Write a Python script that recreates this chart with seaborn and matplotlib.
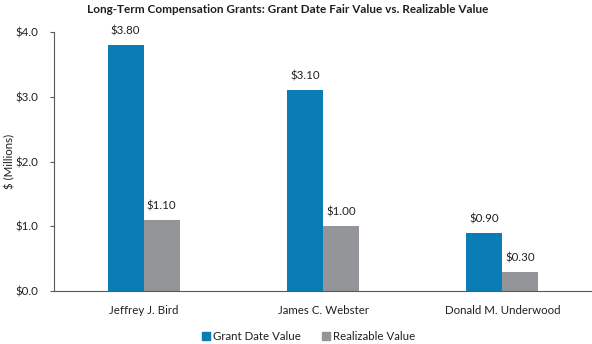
import matplotlib
matplotlib.use("Agg")
import matplotlib.pyplot as plt
import seaborn as sns
import pandas as pd

executives = ["Jeffrey J. Bird", "James C. Webster", "Donald M. Underwood"]
grant_date_value = [3.80, 3.10, 0.90]
realizable_value = [1.10, 1.00, 0.30]
series_names = ["Grant Date Value", "Realizable Value"]
y_ticks = [0.0, 1.0, 2.0, 3.0, 4.0]

df = pd.DataFrame({
    "Executive": executives * 2,
    "Series": [series_names[0]] * 3 + [series_names[1]] * 3,
    "Value": grant_date_value + realizable_value,
})

sns.set_theme(style="white")
plt.rcParams["font.family"] = ["Lato", "DejaVu Sans"]

colors = {"Grant Date Value": "#0b7db6", "Realizable Value": "#939598"}
text_color = "#231f20"
axis_color = "#58595b"

fig = plt.figure(figsize=(5.92, 3.44), dpi=100)
ax = fig.add_axes([54 / 592, 53 / 344, 538 / 592, 259 / 344])

sns.barplot(data=df, x="Executive", y="Value", hue="Series", palette=colors,
            width=0.4, linewidth=0, saturation=1, ax=ax, legend=False)

for container in ax.containers:
    ax.bar_label(container, labels=[f"${v:.2f}" for v in container.datavalues],
                 padding=6, fontsize=8.3, color=text_color)

ax.set_xlim(-0.5, 2.5)
ax.set_ylim(0, 4.0)
ax.set_yticks(y_ticks)
ax.set_yticklabels([f"${t:.1f}" for t in y_ticks])
ax.tick_params(axis="y", direction="out", length=3, width=0.8, color=axis_color,
               labelsize=8.3, labelcolor=text_color, pad=8, left=True)
ax.tick_params(axis="x", length=0, labelsize=8.3, labelcolor=text_color, pad=10)
ax.set_xlabel("")
ax.set_ylabel("$ (Millions)", fontsize=8.3, color=text_color, labelpad=0.5)

for side in ["top", "right"]:
    ax.spines[side].set_visible(False)
for side in ["left", "bottom"]:
    ax.spines[side].set_color(axis_color)
    ax.spines[side].set_linewidth(0.8)

ax.set_title("Long-Term Compensation Grants: Grant Date Fair Value vs. Realizable Value",
             fontsize=8.5, fontweight="bold", color=text_color, pad=14, x=0.435)

handles = [plt.Line2D([], [], marker="s", linestyle="", markersize=6,
                      color=colors[s]) for s in series_names]
fig.legend(handles, series_names, loc="lower center", bbox_to_anchor=(0.519, -0.025),
           ncol=2, frameon=False, fontsize=8.3, handletextpad=0.0, columnspacing=1.6,
           handlelength=1.2, labelcolor=text_color)

fig.savefig("out.png", dpi=100)
